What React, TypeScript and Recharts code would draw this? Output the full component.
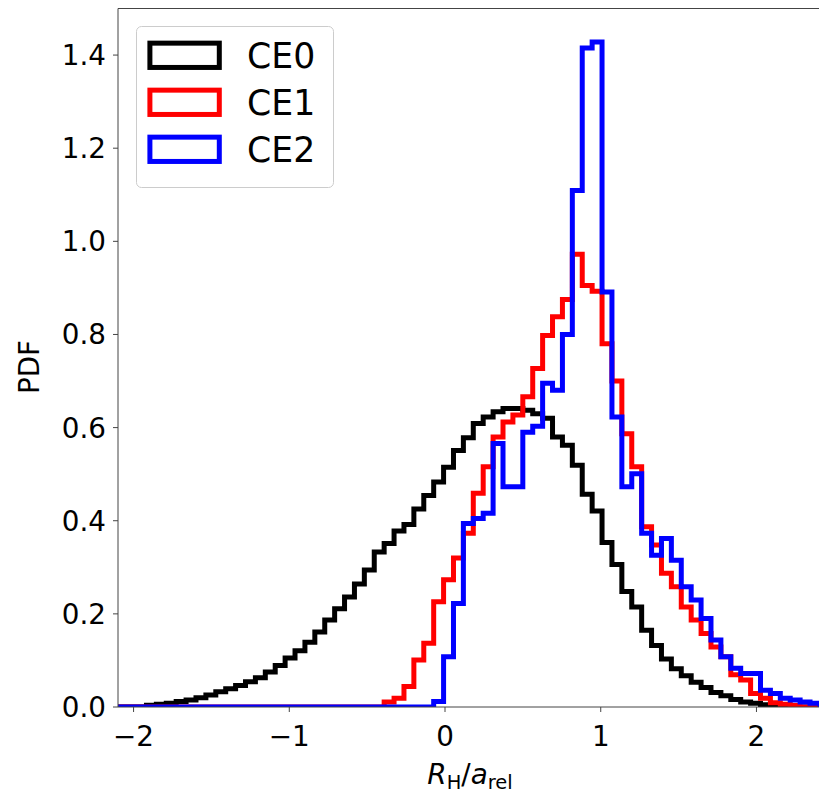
import React from 'react';
import { LineChart, Line, XAxis, YAxis, ReferenceLine, Legend, Label } from 'recharts';

// Histogram binning shared by all three series
const BIN_START = -2.108;
const BIN_WIDTH = 0.0636;

// Probability density per bin (72 bins)
const ce0 = [
  0, 0, 0, 0.004, 0.006, 0.008, 0.012, 0.015, 0.020, 0.026,
  0.033, 0.039, 0.046, 0.054, 0.063, 0.075, 0.089, 0.105, 0.121, 0.139,
  0.161, 0.187, 0.211, 0.236, 0.264, 0.294, 0.333, 0.351, 0.378, 0.392,
  0.425, 0.454, 0.483, 0.515, 0.551, 0.578, 0.609, 0.623, 0.634, 0.641,
  0.641, 0.637, 0.630, 0.620, 0.580, 0.562, 0.519, 0.457, 0.421, 0.353,
  0.306, 0.248, 0.215, 0.165, 0.132, 0.103, 0.082, 0.067, 0.053, 0.042,
  0.031, 0.024, 0.016, 0.011, 0.008, 0.005, 0.003, 0.002, 0, 0,
  0, 0,
];

const ce1 = [
  0, 0, 0, 0, 0, 0, 0, 0, 0, 0,
  0, 0, 0, 0, 0, 0, 0, 0, 0, 0,
  0, 0, 0, 0, 0, 0, 0, 0.011, 0.019, 0.044,
  0.101, 0.137, 0.226, 0.273, 0.320, 0.373, 0.459, 0.516, 0.580, 0.612,
  0.627, 0.666, 0.727, 0.798, 0.838, 0.875, 0.972, 0.905, 0.893, 0.780,
  0.700, 0.587, 0.516, 0.387, 0.348, 0.287, 0.258, 0.215, 0.187, 0.158,
  0.129, 0.108, 0.069, 0.058, 0.029, 0.019, 0.009, 0.006, 0.003, 0,
  0, 0,
];

const ce2 = [
  0, 0, 0, 0, 0, 0, 0, 0, 0, 0,
  0, 0, 0, 0, 0, 0, 0, 0, 0, 0,
  0, 0, 0, 0, 0, 0, 0, 0, 0, 0,
  0, 0, 0.012, 0.108, 0.222, 0.394, 0.405, 0.416, 0.566, 0.473,
  0.473, 0.590, 0.603, 0.695, 0.680, 0.800, 1.109, 1.415, 1.428, 0.891,
  0.623, 0.473, 0.501, 0.373, 0.326, 0.362, 0.315, 0.258, 0.230, 0.190,
  0.144, 0.108, 0.083, 0.072, 0.072, 0.036, 0.029, 0.019, 0.015, 0.011,
  0.008, 0.005,
];

const seriesKeys = ['ce0', 'ce1', 'ce2'];
const seriesNames = ['CE0', 'CE1', 'CE2'];
const seriesColors = ['#000000', '#ff0000', '#0000ff'];

const xTicks = [-2, -1, 0, 1, 2];
const yTicks = [0, 0.2, 0.4, 0.6, 0.8, 1.0, 1.2, 1.4];
const X_DOMAIN: [number, number] = [-2.1, 2.453];
const Y_DOMAIN: [number, number] = [0, 1.5];

const FONT = '"DejaVu Sans", sans-serif';
const TICK_FONT = 27.8;
const LEGEND_FONT = 34.7;
const AXIS_COLOR = '#444444';

// One row per bin edge; the trailing rows close the last bin back to zero.
const series = [ce0, ce1, ce2];
const nBins = ce0.length;
const rows: Record<string, number>[] = [];
for (let k = 0; k < nBins; k++) {
  const row: Record<string, number> = { x: BIN_START + k * BIN_WIDTH };
  seriesKeys.forEach((key, s) => { row[key] = series[s][k]; });
  rows.push(row);
}
{
  const lastEdge = BIN_START + nBins * BIN_WIDTH;
  const closeTop: Record<string, number> = { x: lastEdge };
  const closeBottom: Record<string, number> = { x: lastEdge };
  seriesKeys.forEach((key, s) => {
    closeTop[key] = series[s][nBins - 1];
    closeBottom[key] = 0;
  });
  rows.push(closeTop, closeBottom);
}

const fmtX = (v: number) => (v < 0 ? '\u2212' + Math.abs(v) : String(v));

const XTick = (props: any) => {
  const { x, y, payload } = props;
  return (
    <text x={x} y={y + 29} textAnchor="middle" fontFamily={FONT} fontSize={TICK_FONT} fill="#000">
      {fmtX(payload.value)}
    </text>
  );
};

const YTick = (props: any) => {
  const { x, y, payload } = props;
  return (
    <text x={x} y={y + 10} textAnchor="end" fontFamily={FONT} fontSize={TICK_FONT} fill="#000">
      {Number(payload.value).toFixed(1)}
    </text>
  );
};

const XTitle = () => {
  const cx = 462;
  const base = 776;
  const sub = TICK_FONT * 0.7;
  return (
    <text x={cx} y={base} textAnchor="middle" fontFamily={FONT} fontSize={TICK_FONT} fill="#000">
      <tspan fontStyle="italic">R</tspan>
      <tspan fontSize={sub} dy={5}>H</tspan>
      <tspan dy={-5}>/</tspan>
      <tspan fontStyle="italic">a</tspan>
      <tspan fontSize={sub} dy={5}>rel</tspan>
    </text>
  );
};

const YTitle = () => {
  const cx = 21;
  const cy = 359;
  return (
    <text
      x={cx}
      y={cy}
      transform={`rotate(-90 ${cx} ${cy})`}
      textAnchor="middle"
      dominantBaseline="central"
      fontFamily={FONT}
      fontSize={TICK_FONT}
      fill="#000"
    >
      PDF
    </text>
  );
};

const LEGEND_W = 198;
const LEGEND_H = 162;

const renderLegend = (props: any) => {
  const payload = (props.payload || []).slice().sort((a: any, b: any) =>
    String(a.value).localeCompare(String(b.value))
  );
  const padX = 13.9;
  const handleW = 69.4;
  const handleH = 24.3;
  const textX = padX + handleW + 27.8;
  return (
    <svg width={LEGEND_W} height={LEGEND_H} style={{ display: 'block' }}>
      <rect
        x={0.5}
        y={0.5}
        width={LEGEND_W - 1}
        height={LEGEND_H - 1}
        rx={5}
        ry={5}
        fill="#ffffff"
        fillOpacity={0.8}
        stroke="#cccccc"
        strokeWidth={1}
      />
      {payload.map((entry: any, i: number) => {
        const cy = 29.3 + i * 47;
        return (
          <g key={String(entry.value)}>
            <rect
              x={padX}
              y={cy - handleH / 2}
              width={handleW}
              height={handleH}
              fill="none"
              stroke={entry.color}
              strokeWidth={5}
            />
            <text x={textX} y={cy + 12.7} fontFamily={FONT} fontSize={LEGEND_FONT} fill="#000">
              {entry.value}
            </text>
          </g>
        );
      })}
    </svg>
  );
};

export default function App() {
  return (
    <div style={{ width: 819, height: 785 }}>
      <LineChart
        width={819}
        height={785}
        data={rows}
        margin={{ top: 0.5, right: 0, bottom: 0, left: 0 }}
      >
        <XAxis
          dataKey="x"
          type="number"
          domain={X_DOMAIN}
          allowDataOverflow
          ticks={xTicks}
          interval={0}
          height={86}
          tickSize={5}
          tickMargin={5}
          axisLine={{ stroke: AXIS_COLOR, strokeWidth: 1 }}
          tickLine={{ stroke: AXIS_COLOR, strokeWidth: 1 }}
          tick={<XTick />}
        >
          <Label content={<XTitle />} />
        </XAxis>
        <YAxis
          type="number"
          domain={Y_DOMAIN}
          allowDataOverflow
          ticks={yTicks}
          interval={0}
          width={110}
          tickSize={5}
          tickMargin={7}
          axisLine={{ stroke: AXIS_COLOR, strokeWidth: 1 }}
          tickLine={{ stroke: AXIS_COLOR, strokeWidth: 1 }}
          tick={<YTick />}
        >
          <Label content={<YTitle />} />
        </YAxis>
        <ReferenceLine y={Y_DOMAIN[1]} stroke={AXIS_COLOR} strokeWidth={1} />
        {seriesKeys.map((key, s) => (
          <Line
            key={key}
            dataKey={key}
            name={seriesNames[s]}
            type="stepAfter"
            stroke={seriesColors[s]}
            strokeWidth={5}
            strokeLinejoin="miter"
            strokeLinecap="butt"
            dot={false}
            activeDot={false}
            isAnimationActive={false}
            legendType="rect"
          />
        ))}
        <Legend
          layout="vertical"
          align="center"
          verticalAlign="middle"
          content={renderLegend}
          wrapperStyle={{ left: 127.5, top: 17.7, width: LEGEND_W, height: LEGEND_H }}
        />
      </LineChart>
    </div>
  );
}
